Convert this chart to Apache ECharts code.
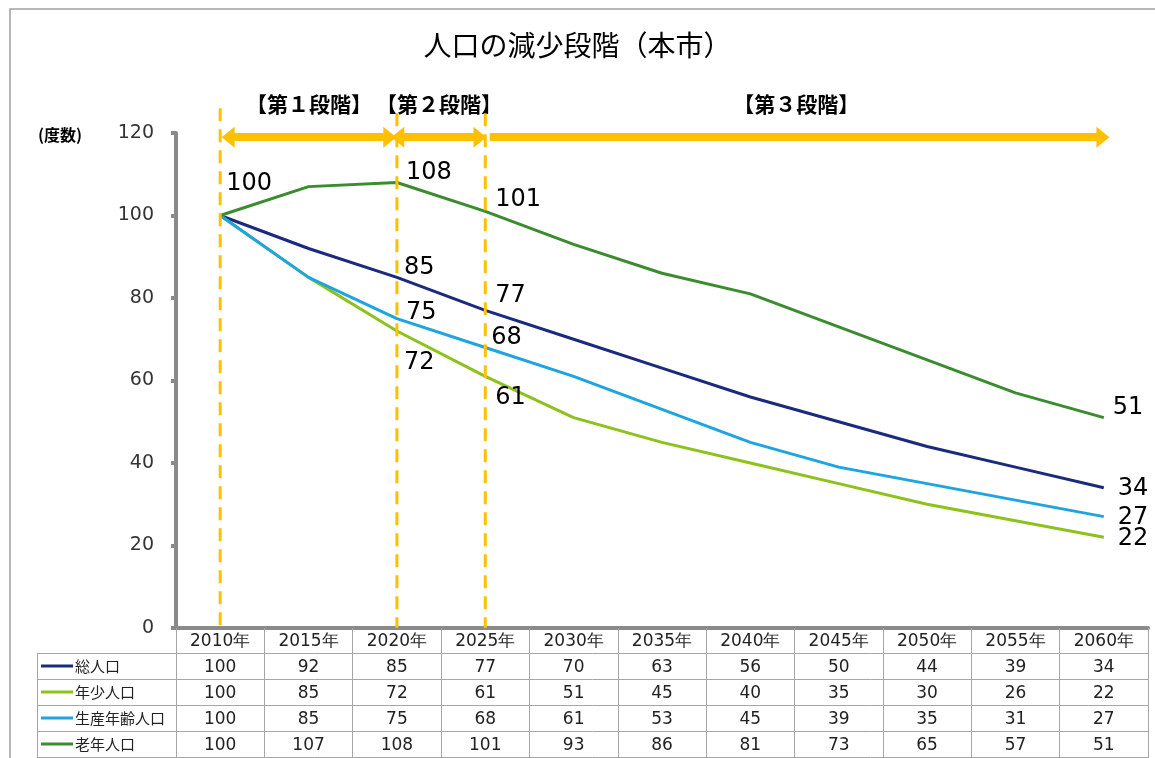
<!DOCTYPE html>
<html>
<head>
<meta charset="utf-8">
<title>人口の減少段階（本市）</title>
<script src="https://cdn.jsdelivr.net/npm/echarts@6/dist/echarts.min.js"></script>
<style>
  html, body { margin: 0; padding: 0; background: #fff; }
  #main { width: 1155px; height: 758px; }
</style>
</head>
<body>
<div id="main"></div>
<script>
// データ
var years = ['2010年', '2015年', '2020年', '2025年', '2030年', '2035年', '2040年', '2045年', '2050年', '2055年', '2060年'];
var soujinkou = [100, 92, 85, 77, 70, 63, 56, 50, 44, 39, 34];
var nenshou = [100, 85, 72, 61, 51, 45, 40, 35, 30, 26, 22];
var seisan = [100, 85, 75, 68, 61, 53, 45, 39, 35, 31, 27];
var rounen = [100, 107, 108, 101, 93, 86, 81, 73, 65, 57, 51];
var seriesNames = ['総人口', '年少人口', '生産年齢人口', '老年人口'];
var stageNames = ['【第１段階】', '【第２段階】', '【第３段階】'];
var stageFrom = [0.09, 2.01, 3.05];
var stageTo = [1.92, 2.94, 9.99];
var dividerYears = [0, 2, 3];
var dividerTop = [126, 124.8, 124.8];

var rows = [soujinkou, nenshou, seisan, rounen];
var colors = ['#1b2a7c', '#8cc21b', '#1ea5df', '#3a8c2f'];
var orange = '#ffc000';
var numFont = 'DejaVu Sans';
var jpFont = 'Noto Sans CJK JP';

// ラベルを出す点と位置のずれ [dx, dy]
var labelSpots = [
  { 2: [7, -10], 3: [10, -15], 10: [14, 1] },
  { 2: [7, 32], 3: [10, 21], 10: [14, 2] },
  { 2: [9, -6], 3: [6, -10], 10: [14, 1] },
  { 0: [6, -32], 2: [9, -10], 3: [10, -12], 10: [9, -10] }
];

var myChart = echarts.init(document.getElementById('main'));

function buildData(vals, spots) {
  return vals.map(function (v, i) {
    if (!spots[i]) return v;
    return { value: v, label: { show: true, position: 'right', distance: 0, offset: spots[i] } };
  });
}

var series = rows.map(function (vals, k) {
  return {
    name: seriesNames[k],
    type: 'line',
    data: buildData(vals, labelSpots[k]),
    symbol: 'circle',
    symbolSize: 0,
    showSymbol: true,
    lineStyle: { color: colors[k], width: 3 },
    itemStyle: { color: colors[k] },
    label: { show: false, fontSize: 24, fontFamily: numFont, color: '#000' },
    emphasis: { disabled: true },
    z: 3 + k
  };
});

// 段階の矢印
var markLines = [];
stageNames.forEach(function (name, i) {
  markLines.push([
    { coord: [stageFrom[i], 119], symbol: i == 2 ? 'none' : 'triangle', symbolSize: [21, 13],
      lineStyle: { color: orange, width: 8, type: 'solid' },
      label: { show: true, position: 'insideMiddleTop', distance: 23, formatter: name,
        fontSize: 21, fontWeight: 'bold', fontFamily: jpFont, color: '#000' } },
    { coord: [stageTo[i], 119], symbol: 'triangle', symbolSize: [21, 13] }
  ]);
});

series.push({
  name: 'stage',
  type: 'line',
  xAxisIndex: 5,
  yAxisIndex: 0,
  data: [],
  clip: false,
  markLine: {
    silent: true,
    animation: false,
    symbol: 'none',
    data: markLines
  }
});

var xAxes = [{
  type: 'category',
  data: years,
  boundaryGap: true,
  position: 'bottom',
  axisLine: { onZero: false, lineStyle: { color: '#8a8a8a', width: 4 } },
  axisTick: { show: true, length: 130, interval: 0, lineStyle: { color: '#a6a6a6', width: 1 } },
  axisLabel: { interval: 0, margin: 5, fontSize: 17, fontFamily: numFont, color: '#222' }
}];
rows.forEach(function (vals, k) {
  xAxes.push({
    type: 'category',
    data: years,
    position: 'bottom',
    offset: 26 * (k + 1),
    axisLine: { show: false, onZero: false },
    axisTick: { show: false },
    axisLabel: {
      interval: 0, margin: 5, fontSize: 17, fontFamily: numFont, color: '#222',
      formatter: function (v, idx) { return String(vals[idx]); }
    }
  });
});
xAxes.push({ type: 'value', min: -0.5, max: 10.5, show: false, position: 'top' });

// 表の罫線と凡例
var graphics = [
  { type: 'rect', shape: { x: 10, y: 9, width: 1200, height: 800 }, style: { fill: 'none', stroke: '#a0a0a0', lineWidth: 1.5 }, silent: true },
  { type: 'text', left: 38, top: 127, style: { text: '(度数)', font: 'bold 16px "Noto Sans CJK JP"', fill: '#000' } },
  { type: 'line', shape: { x1: 37.5, y1: 653, x2: 37.5, y2: 758 }, style: { stroke: '#a6a6a6', lineWidth: 1 } }
];
for (var r = 0; r <= 4; r++) {
  graphics.push({ type: 'line', shape: { x1: 37, y1: 653.5 + 26 * r, x2: 1148, y2: 653.5 + 26 * r }, style: { stroke: '#a6a6a6', lineWidth: 1 } });
}
seriesNames.forEach(function (name, k) {
  var cy = 666 + 26 * k;
  graphics.push({ type: 'line', shape: { x1: 41, y1: cy, x2: 73, y2: cy }, style: { stroke: colors[k], lineWidth: 3 } });
  graphics.push({ type: 'text', x: 75, y: cy, style: { text: name, font: '15px "Noto Sans CJK JP"', fill: '#222', verticalAlign: 'middle' } });
});

myChart.setOption({
  animation: false,
  backgroundColor: '#fff',
  title: {
    text: '人口の減少段階（本市）',
    left: 'center',
    top: 26,
    textStyle: { fontSize: 28, fontWeight: 'normal', fontFamily: jpFont, color: '#000' }
  },
  grid: { left: 176, right: 7, top: 133, bottom: 130 },
  xAxis: xAxes,
  yAxis: {
    type: 'value',
    min: 0,
    max: 120,
    interval: 20,
    axisLine: { show: true, onZero: false, lineStyle: { color: '#8a8a8a', width: 4 } },
    axisTick: { show: true, length: 5, lineStyle: { color: '#8a8a8a', width: 4 } },
    splitLine: { show: false },
    axisLabel: { margin: 22, fontSize: 19, fontFamily: numFont, color: '#333' }
  },
  graphic: graphics,
  series: series
});

// 段階の区切り線（点線）は軸の目盛りから位置を求める
dividerYears.forEach(function (x, i) {
  var px = myChart.convertToPixel({ xAxisIndex: 0 }, years[x]);
  var top = myChart.convertToPixel({ yAxisIndex: 0 }, dividerTop[i]);
  var bottom = myChart.convertToPixel({ yAxisIndex: 0 }, 0);
  graphics.push({
    type: 'line', z: 10,
    shape: { x1: px, y1: top, x2: px, y2: bottom },
    style: { stroke: orange, lineWidth: 3, lineDash: [13, 8] }
  });
});
myChart.setOption({ graphic: graphics });
</script>
</body>
</html>
